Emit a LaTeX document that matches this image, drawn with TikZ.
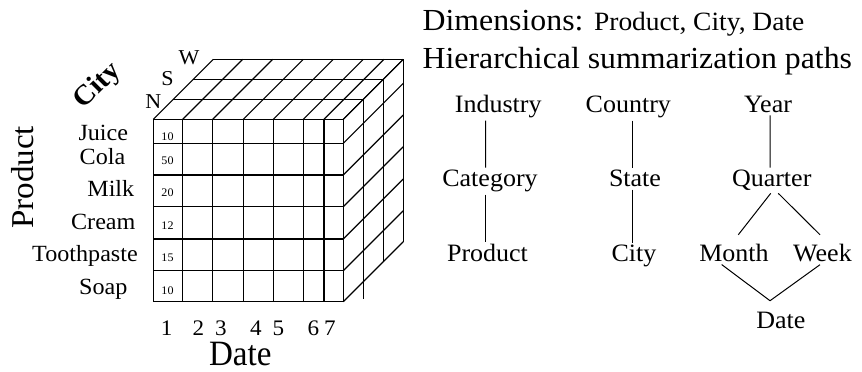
\documentclass[tikz,border=0pt]{standalone}
\usepackage{fontspec}
\setmainfont{Liberation Serif}[FakeStretch=1.04]
\usepackage{graphicx}

\tikzset{
  lbl/.style={inner sep=1pt, anchor=base},
  rowlbl/.style={lbl, font=\fontsize{11.6}{13}\selectfont},
  cellval/.style={lbl, font=\fontsize{5.8}{6}\selectfont},
  datenum/.style={lbl, font=\fontsize{11.1}{12}\selectfont},
  citylbl/.style={inner sep=0pt, font=\fontsize{10.6}{12}\selectfont},
  level/.style={lbl, font=\fontsize{12.5}{14}\selectfont},
  axislbl/.style={inner sep=0pt},
}

\begin{document}
\begin{tikzpicture}[x=0.5pt, y=-0.5pt, line width=0.6pt]

  \useasboundingbox (0,0) rectangle (862,371);

  % Bords de la face avant du cube
  \def\xl{153.3}   % gauche
  \def\xr{343.3}   % droite
  \def\yt{119.3}   % haut
  \def\yb{301.7}   % bas
  \def\dd{20}      % pas de profondeur

  % ==============================================
  % 1. CUBE : face avant, dessus et cote droit
  % ==============================================
  \foreach \x in {153.3,182.7,212.7,243.3,273.3,303.3,324,343.3} {
    \draw (\x,\yt) -- (\x,\yb);
    \draw (\x,\yt) -- (\x+3*\dd,\yt-3*\dd); % arete du dessus
  }
  \foreach \y in {119.3,143.3,175,206.7,239,270.7,301.7} {
    \draw (\xl,\y) -- (\xr,\y);
    \draw (\xr,\y) -- (\xr+3*\dd,\y-3*\dd); % arete du cote droit
  }
  % Tranches en profondeur (N, S, W)
  \foreach \d/\ybot in {1/299, 2/261.7, 3/241.7} {
    \draw (\xl+\d*\dd,\yt-\d*\dd) -- (\xr+\d*\dd,\yt-\d*\dd) -- (\xr+\d*\dd,\ybot);
  }

  % ==============================================
  % 2. ETIQUETTES DU CUBE
  % ==============================================
  \foreach \name/\xc/\bl/\val [count=\i] in {Juice/103.3/140/10, Cola/102.5/164/50,
      Milk/110.8/196.7/20, Cream/103.3/229.3/12, Toothpaste/85/261.7/15, Soap/103.3/294.5/10} {
    \node[rowlbl] (prod\i) at (\xc,\bl) {\name};
    \node[cellval] (val\i) at (167.5,\bl) {\val};
  }
  \foreach \x [count=\i] in {166.7,198.3,221,256,278.3,313.3,330}
    \node[datenum] (day\i) at (\x,335) {\i};

  \node[citylbl] (north) at (153.3,101.7) {N};
  \node[citylbl] (south) at (167.5,79) {S};
  \node[citylbl] (west)  at (189,57.5) {W};

  \node[axislbl, rotate=90, font=\fontsize{15.9}{17}\selectfont] (prodaxis) at (23,177.3) {Product};
  \node[axislbl, rotate=45, font=\bfseries\fontsize{14}{16}\selectfont] (cityaxis) at (98,86) {City};
  \node[axislbl, anchor=base, font=\fontsize{15.9}{17}\selectfont] (dateaxis) at (240.3,365)
    {\scalebox{1}[1.12]{Date}};

  % ==============================================
  % 3. TITRES
  % ==============================================
  \node[inner sep=0pt, anchor=base west, font=\fontsize{15.3}{17}\selectfont] (dims) at (422,30.7)
    {Dimensions: {\fontsize{13.2}{15}\selectfont Product, City, Date}};
  \node[inner sep=0pt, anchor=base west, font=\fontsize{15.3}{17}\selectfont] (paths) at (422,68.3)
    {Hierarchical summarization paths};

  % ==============================================
  % 4. CHEMINS HIERARCHIQUES
  % ==============================================
  \node[level] (ind) at (498.3,112.5) {Industry};
  \node[level] (cat) at (490,186.7)   {Category};
  \node[level] (prd) at (487.5,261.7) {Product};

  \node[level] (cty) at (628.3,112.5) {Country};
  \node[level] (sta) at (635,186.7)   {State};
  \node[level] (cit) at (634,261.7)   {City};

  \node[level] (yr)  at (768,112.5)   {Year};
  \node[level] (qtr) at (771.7,186.7) {Quarter};
  \node[level] (mon) at (734,261.7)   {Month};
  \node[level] (wk)  at (822.5,261.7) {Week};
  \node[level] (dat) at (780.8,328.3) {Date};

  \draw[line width=0.5pt] ([xshift=-6.3pt]ind.south) -- ([xshift=-2.15pt]cat.north);
  \draw[line width=0.5pt] ([xshift=-2.15pt]cat.south) -- ([xshift=-0.9pt]prd.north);

  \draw[line width=0.5pt] ([xshift=2pt]cty.south) -- ([xshift=-1.35pt]sta.north);
  \draw[line width=0.5pt] ([xshift=-1.35pt]sta.south) -- ([xshift=-0.85pt]cit.north);

  \draw[line width=0.5pt] ([xshift=1pt]yr.south) -- ([xshift=-0.85pt]qtr.north);
  \draw[line width=0.5pt] ([xshift=-0.5pt]qtr.south) -- ([xshift=2.15pt, yshift=3.5pt]mon.north);
  \draw[line width=0.5pt] ([xshift=3.3pt]qtr.south) -- ([xshift=-1.25pt, yshift=3.5pt]wk.north);
  \draw[line width=0.5pt] ([xshift=-6.15pt]mon.south) -- ([xshift=-5.4pt, yshift=4.3pt]dat.north);
  \draw[line width=0.5pt] ([xshift=-1.25pt]wk.south) -- ([xshift=-5.4pt, yshift=4.3pt]dat.north);

\end{tikzpicture}
\end{document}
